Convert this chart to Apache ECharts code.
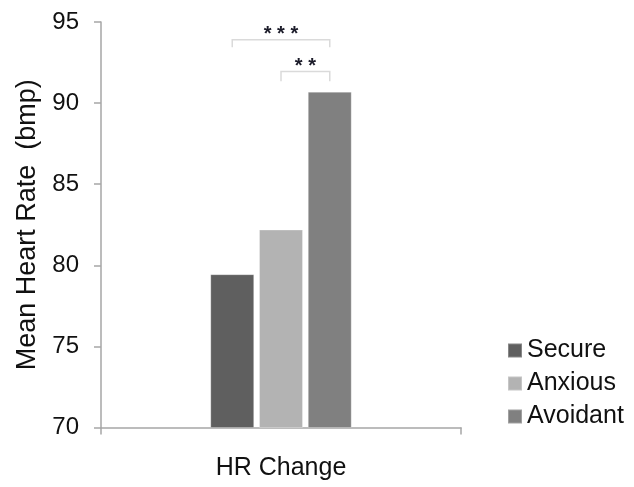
<!DOCTYPE html>
<html>
<head>
<meta charset="utf-8">
<script src="https://cdn.jsdelivr.net/npm/echarts@6/dist/echarts.min.js"></script>
<style>
  html, body { margin: 0; padding: 0; background: #fff; }
  #chart { width: 634px; height: 487px; }
</style>
</head>
<body>
<div id="chart"></div>
<script>
// Mean heart rate change by attachment style
const categories = ['HR Change'];
const groups = ['Secure', 'Anxious', 'Avoidant'];
const secure = [79.45];
const anxious = [82.2];
const avoidant = [90.7];
const groupColors = ['#5f5f5f', '#b3b3b3', '#808080'];
const yTicks = { min: 70, max: 95, interval: 5 };

// Significance brackets: [fromGroup, toGroup, level, tickBottom, label]
const brackets = [
  [0, 2, 93.9, 93.45, '* * *'],
  [1, 2, 91.95, 91.35, '* *']
];

const BAR_WIDTH_PCT = 0.122;   // bar width as share of the category band
const BAR_GAP = 0.11;          // gap between bars as share of bar width

const chart = echarts.init(document.getElementById('chart'), null, { renderer: 'canvas' });
const FONT = 'Liberation Sans, Arial, sans-serif';

function barSeries(name, data, color) {
  return {
    name: name,
    type: 'bar',
    data: data,
    barWidth: (BAR_WIDTH_PCT * 100) + '%',
    barGap: (BAR_GAP * 100) + '%',
    itemStyle: { color: color, borderColor: 'rgba(255,255,255,0.25)', borderWidth: 1 }
  };
}

chart.setOption({
  animation: false,
  backgroundColor: '#fff',
  textStyle: { fontFamily: FONT },
  grid: { left: 101, right: 173, top: 22, bottom: 59.5, containLabel: false },
  legend: {
    orient: 'vertical',
    left: 502,
    top: 333,
    itemWidth: 14,
    itemHeight: 14,
    itemGap: 8,
    icon: 'rect',
    data: groups,
    textStyle: { fontSize: 25, color: '#111', fontFamily: FONT, lineHeight: 25 }
  },
  xAxis: {
    type: 'category',
    data: categories,
    axisLine: { lineStyle: { color: '#a6a6a6', width: 1.5 } },
    axisTick: { show: true, length: 7, lineStyle: { color: '#a6a6a6', width: 1.5 } },
    axisLabel: { fontSize: 25, color: '#111', margin: 28, fontFamily: FONT }
  },
  yAxis: {
    type: 'value',
    min: yTicks.min,
    max: yTicks.max,
    interval: yTicks.interval,
    name: 'Mean Heart Rate  (bmp)',
    nameLocation: 'middle',
    nameGap: 58,
    nameTextStyle: { fontSize: 27, color: '#111', fontFamily: FONT },
    axisLine: { show: true, lineStyle: { color: '#a6a6a6', width: 1.5 } },
    axisTick: { show: true, length: 7, lineStyle: { color: '#a6a6a6', width: 1.5 } },
    axisLabel: { fontSize: 24, color: '#111', margin: 22, fontFamily: FONT },
    splitLine: { show: false }
  },
  series: [
    barSeries(groups[0], secure, groupColors[0]),
    barSeries(groups[1], anxious, groupColors[1]),
    barSeries(groups[2], avoidant, groupColors[2]),
    {
      type: 'custom',
      name: 'brackets',
      silent: true,
      z: 5,
      data: brackets.map(b => [0, b[2], b[3], b[0], b[1]]),
      renderItem: function (params, api) {
        const band = api.size([1, 0])[0];
        const center = api.coord([api.value(0), api.value(1)]);
        const bw = band * BAR_WIDTH_PCT;
        const step = bw * (1 + BAR_GAP);
        const n = groups.length;
        const total = bw + (n - 1) * step;
        const x0 = center[0] - total / 2 + bw / 2;
        const xa = x0 + api.value(3) * step;
        const xb = x0 + api.value(4) * step;
        const yTop = center[1];
        const yBot = api.coord([0, api.value(2)])[1];
        const b = brackets[params.dataIndex];
        const stroke = { stroke: '#dadada', lineWidth: 1.5, fill: null };
        return {
          type: 'group',
          children: [
            { type: 'polyline', shape: { points: [[xa, yBot], [xa, yTop], [xb, yTop], [xb, yBot]] }, style: stroke },
            {
              type: 'text',
              style: {
                text: b[4], x: (xa + xb) / 2, y: yTop - 5,
                textAlign: 'center', textVerticalAlign: 'middle',
                font: 'bold 20px ' + FONT, fill: '#1c1c2a'
              }
            }
          ]
        };
      }
    }
  ]
});
</script>
</body>
</html>
